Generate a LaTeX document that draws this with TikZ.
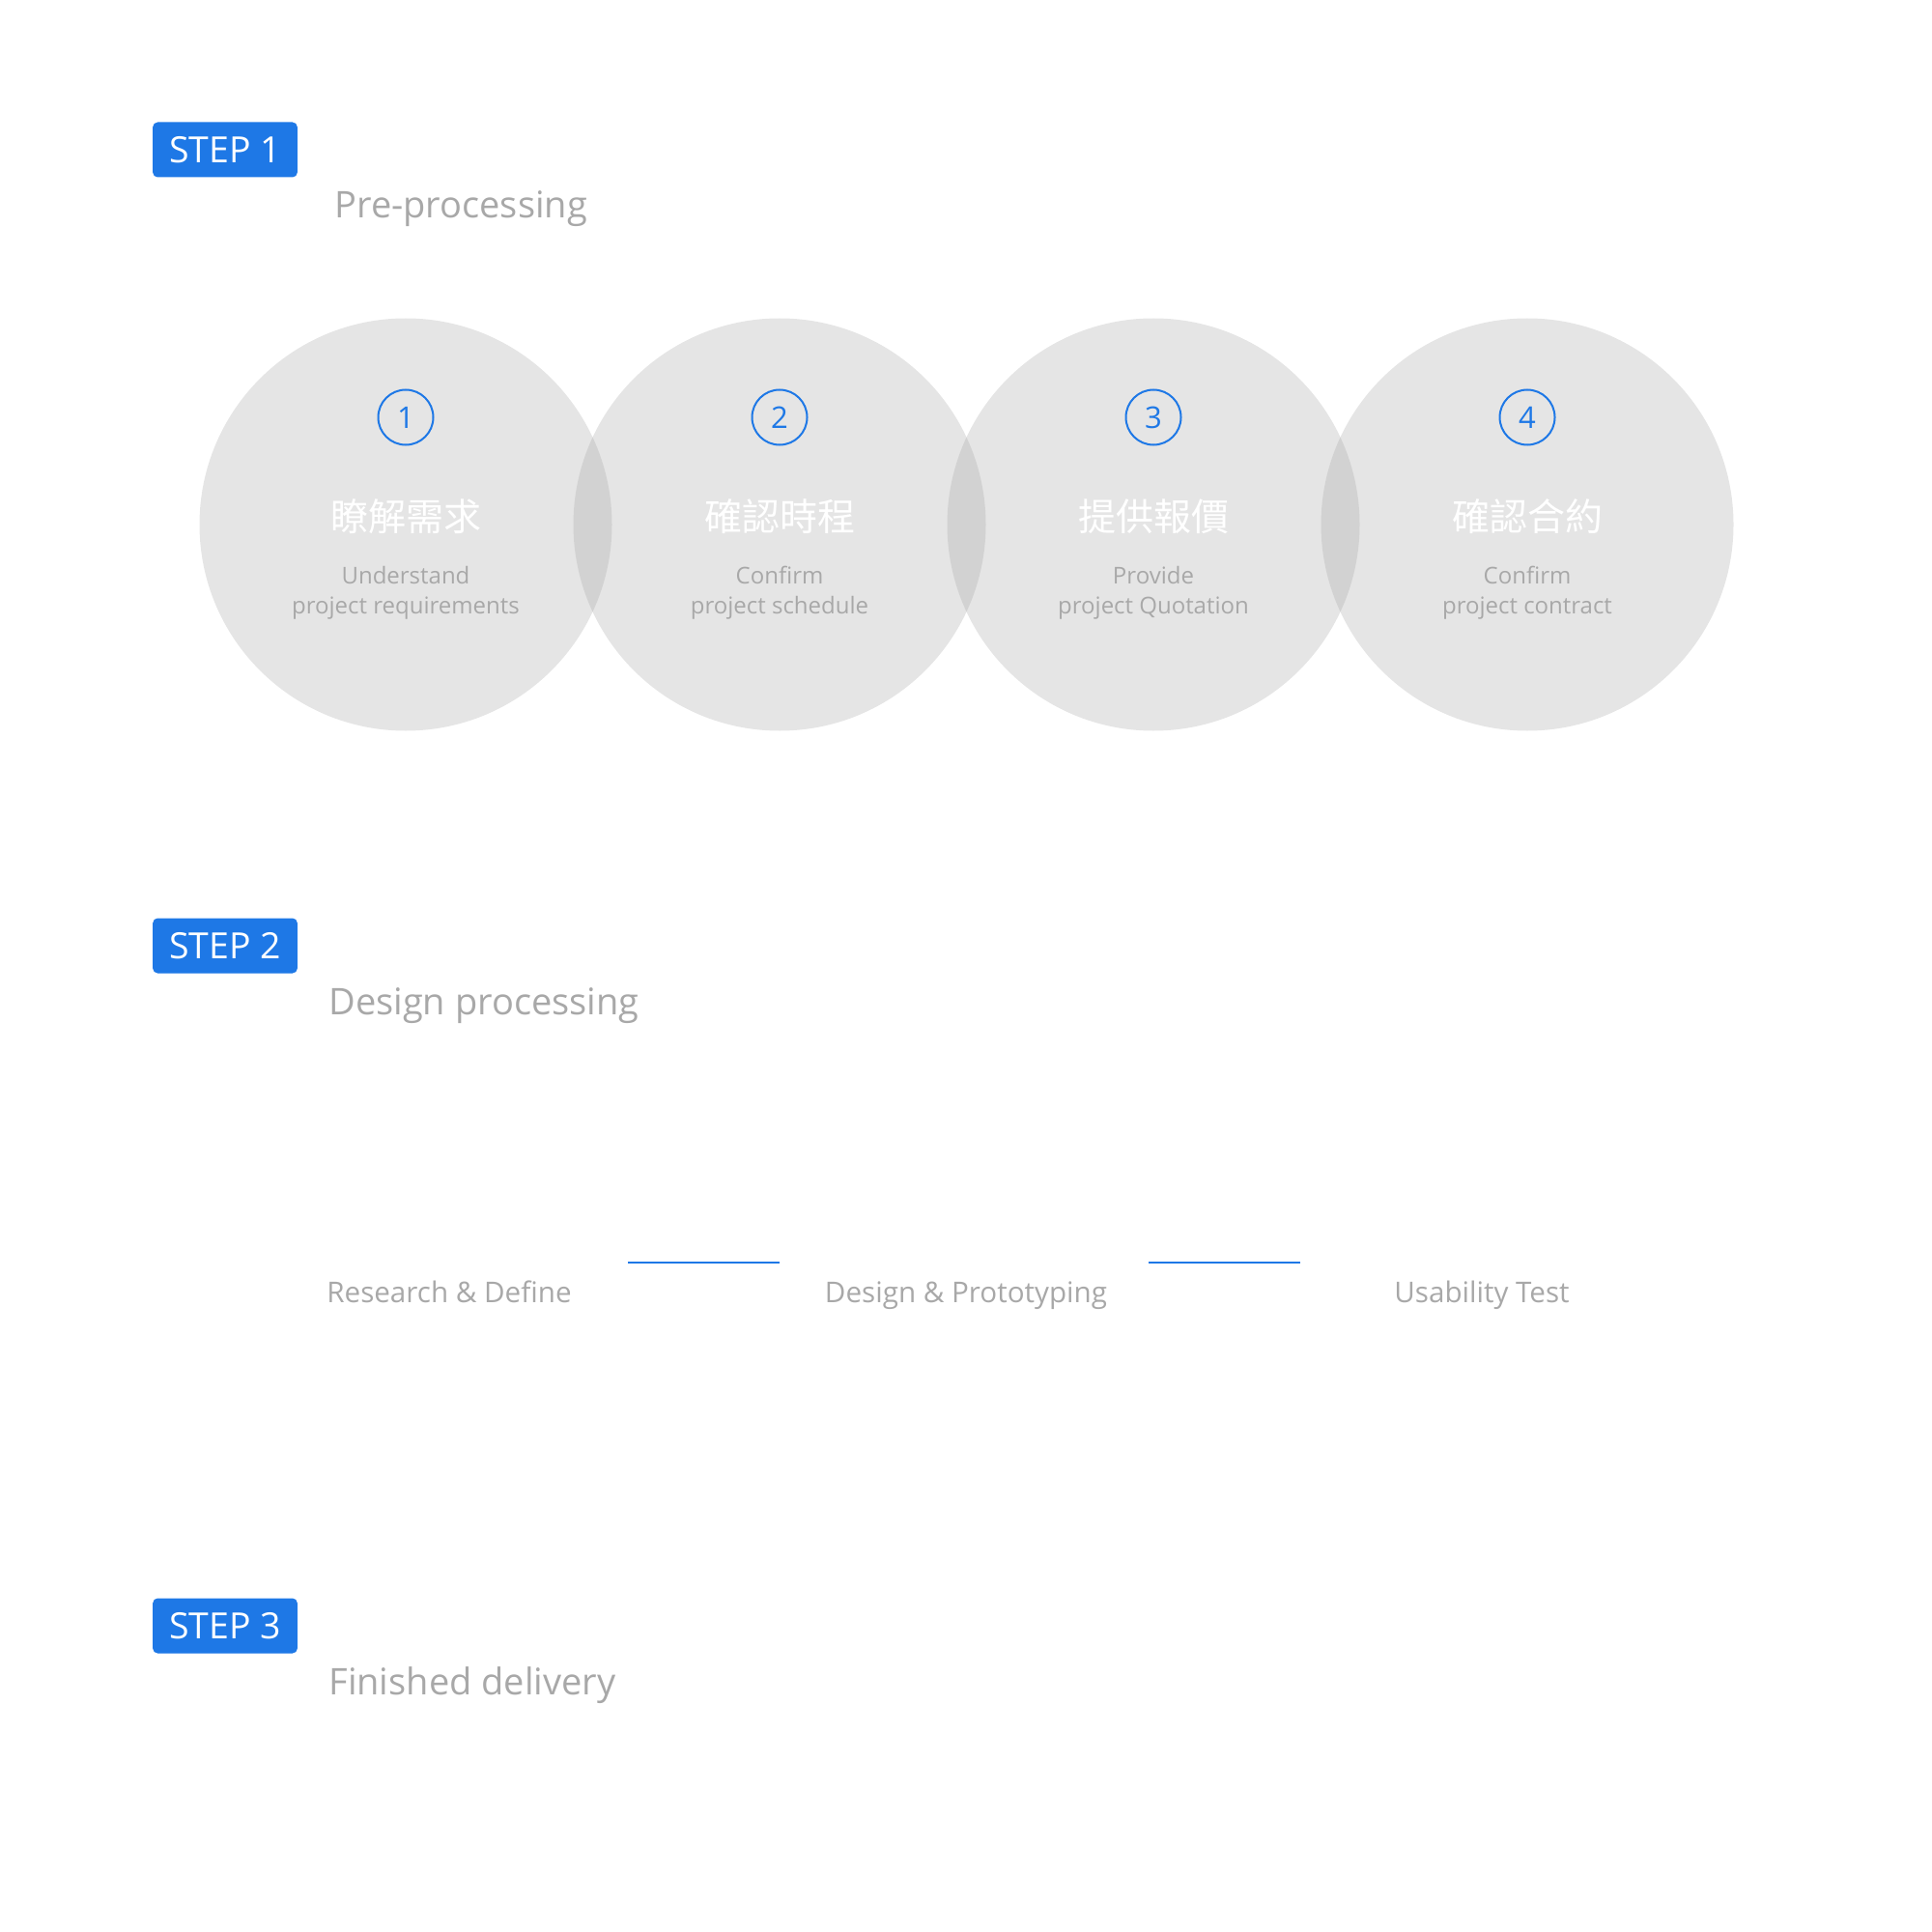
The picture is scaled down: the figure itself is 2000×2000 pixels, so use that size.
\documentclass[tikz,border=0pt]{standalone}
\usepackage{fontspec}
\setmainfont{Open Sans}
\newfontfamily\cjk{Noto Sans CJK TC}
\definecolor{stepblue}{RGB}{30,120,230}
\definecolor{discgray}{RGB}{168,168,168}
\definecolor{labelgray}{RGB}{168,168,168}

\begin{document}
\begin{tikzpicture}[x=0.5pt,y=-0.5pt,
  badge/.style={fill=stepblue,text=white,rounded corners=2.5pt,inner xsep=8.5pt,inner ysep=0pt,minimum height=28.5pt,font=\fontsize{18.7}{21}\selectfont},
  heading/.style={anchor=base west,inner sep=0pt,text=labelgray,font=\fontsize{19}{22}\selectfont},
  disc/.style={circle,fill=discgray,fill opacity=.3,minimum size=213.5pt,inner sep=0pt},
  num/.style={circle,draw=stepblue,line width=1pt,text=stepblue,minimum size=28.5pt,inner sep=0pt,font=\fontsize{15.5}{18}\selectfont},
  title/.style={anchor=base,inner sep=0pt,text=white,font=\cjk\fontsize{19.5}{22}\selectfont},
  sub/.style={anchor=base,inner sep=0pt,align=center,text=labelgray,font=\fontsize{12}{15.3}\selectfont},
  rowlabel/.style={anchor=base,inner sep=0pt,text=labelgray,font=\fontsize{14.8}{17}\selectfont},
  link/.style={draw=stepblue,line width=1.25pt}
]
\useasboundingbox (0,0) rectangle (2000,2000);

\node[badge] (s1) at (233,155) {STEP 1};
\node[heading] (h1) at (346,226) {Pre-processing};

\node[disc] (c1) at (420,543) {};
\node[disc] (c2) at (807,543) {};
\node[disc] (c3) at (1194,543) {};
\node[disc] (c4) at (1581,543) {};

\node[num] (n1) at (420,432) {1};
\node[num] (n2) at (807,432) {2};
\node[num] (n3) at (1194,432) {3};
\node[num] (n4) at (1581,432) {4};

\node[title] (t1) at (420,549) {瞭解需求};
\node[title] (t2) at (807,549) {確認時程};
\node[title] (t3) at (1194,549) {提供報價};
\node[title] (t4) at (1581,549) {確認合約};

\node[sub] (e1) at (420,635) {Understand\\project requirements};
\node[sub] (e2) at (807,635) {Confirm\\project schedule};
\node[sub] (e3) at (1194,635) {Provide\\project Quotation};
\node[sub] (e4) at (1581,635) {Confirm\\project contract};

\node[badge] (s2) at (233,979) {STEP 2};
\node[heading] (h2) at (340,1050) {Design processing};

\node[rowlabel] (r1) at (465,1348) {Research \& Define};
\node[rowlabel] (r2) at (1000,1348) {Design \& Prototyping};
\node[rowlabel] (r3) at (1534,1348) {Usability Test};
\coordinate (l1a) at (650,1307);
\coordinate (l1b) at (807,1307);
\coordinate (l2a) at (1189,1307);
\coordinate (l2b) at (1346,1307);
\draw[link] (l1a) -- (l1b);
\draw[link] (l2a) -- (l2b);

\node[badge] (s3) at (233,1683) {STEP 3};
\node[heading] (h3) at (340,1754) {Finished delivery};
\end{tikzpicture}
\end{document}
